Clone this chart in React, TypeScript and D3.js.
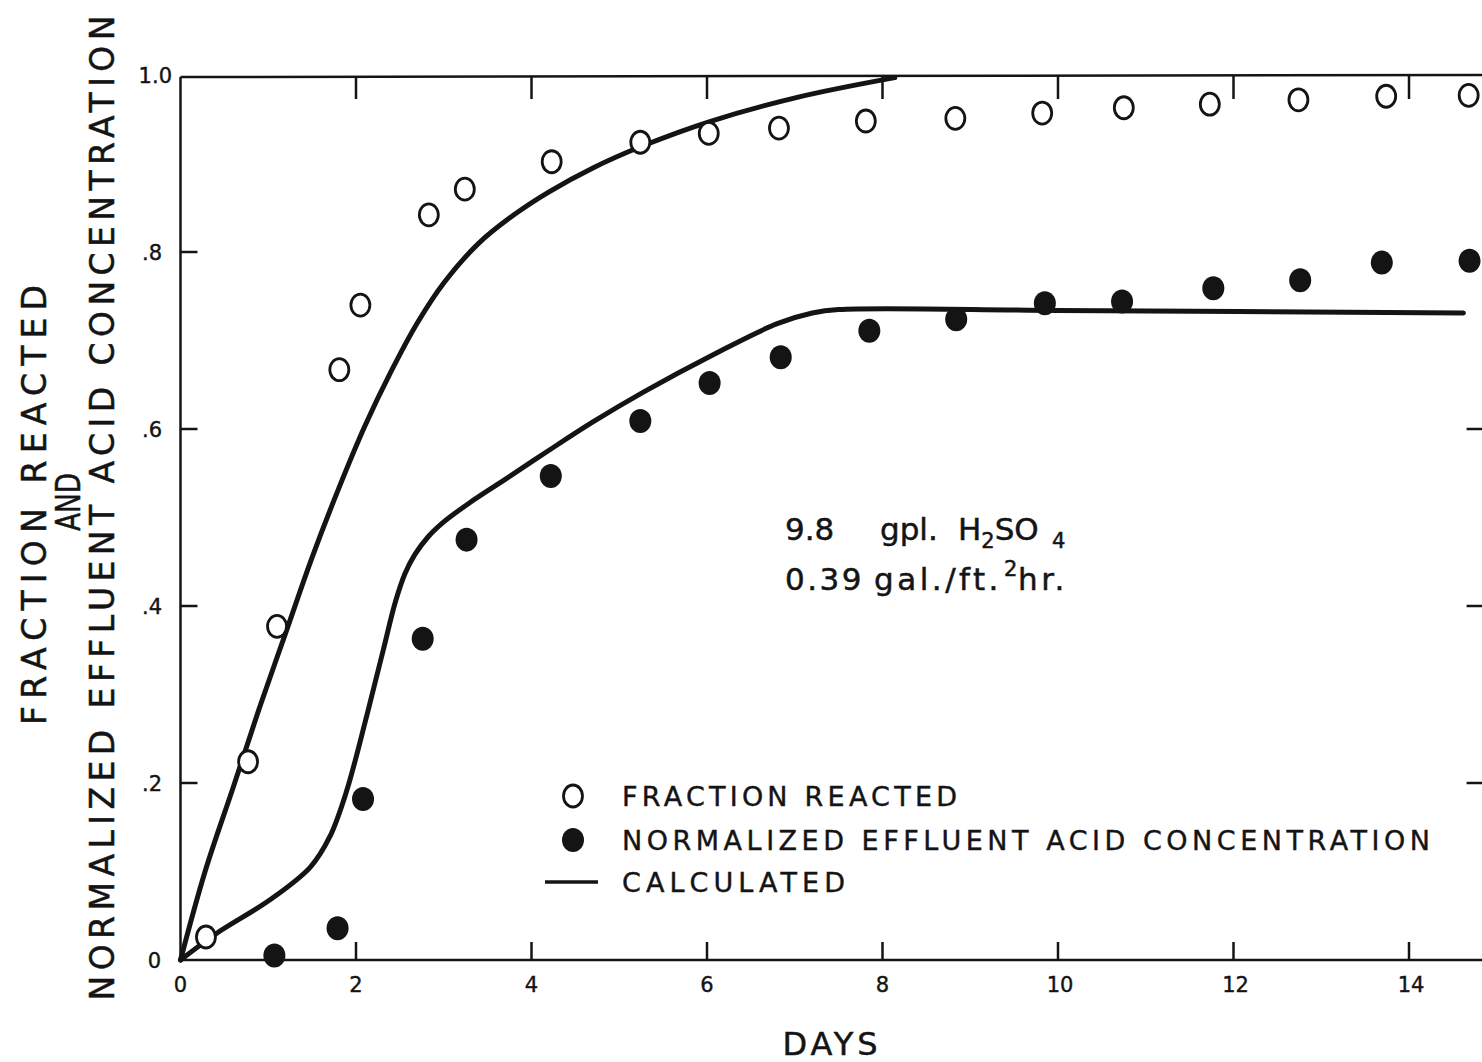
import React from "react";
import * as d3 from "d3";

// ---------- data ----------
const fracDays = [0.29, 0.77, 1.10, 1.81, 2.05, 2.83, 3.24, 4.23, 5.24, 6.02, 6.82, 7.81, 8.83, 9.82, 10.75, 11.73, 12.74, 13.74, 14.68];
const fracVals = [0.026, 0.224, 0.377, 0.667, 0.740, 0.842, 0.871, 0.902, 0.924, 0.934, 0.940, 0.948, 0.951, 0.957, 0.963, 0.967, 0.972, 0.976, 0.977];

const acidDays = [1.07, 1.79, 2.08, 2.76, 3.26, 4.22, 5.24, 6.03, 6.84, 7.85, 8.84, 9.85, 10.73, 11.77, 12.76, 13.69, 14.69];
const acidVals = [0.005, 0.036, 0.182, 0.363, 0.475, 0.547, 0.609, 0.652, 0.681, 0.711, 0.724, 0.742, 0.744, 0.759, 0.768, 0.788, 0.790];

const calcFracDays = [0, 0.28, 0.6, 0.9, 1.2, 1.5, 1.8, 2.1, 2.4, 2.7, 3.0, 3.4, 3.8, 4.2, 4.7, 5.27, 6.05, 7.04, 8.14];
const calcFracVals = [0, 0.1, 0.195, 0.285, 0.37, 0.455, 0.532, 0.603, 0.665, 0.72, 0.765, 0.81, 0.842, 0.868, 0.895, 0.92, 0.948, 0.975, 0.997];

const calcAcidDays = [0, 0.41, 1.02, 1.48, 1.70, 1.89, 2.12, 2.31, 2.45, 2.56, 2.67, 2.82, 3.0, 3.3, 3.7, 4.2, 4.7, 5.28, 6.07, 6.8, 7.2, 7.5, 10.0, 14.62];
const calcAcidVals = [0, 0.03, 0.068, 0.105, 0.139, 0.19, 0.275, 0.35, 0.405, 0.437, 0.458, 0.478, 0.495, 0.517, 0.543, 0.576, 0.608, 0.642, 0.684, 0.719, 0.731, 0.735, 0.734, 0.731];

const xTicks = [0, 2, 4, 6, 8, 10, 12, 14];
const xTickLabels = ["0", "2", "4", "6", "8", "10", "12", "14"];
const yTicks = [0, 0.2, 0.4, 0.6, 0.8, 1.0];
const yTickLabels = ["0", ".2", ".4", ".6", ".8", "1.0"];
const rightTicks = [0.2, 0.4, 0.6];

const legendLabels = ["FRACTION  REACTED", "NORMALIZED  EFFLUENT   ACID  CONCENTRATION", "CALCULATED"];
const yTitleLines = ["FRACTION  REACTED", "AND", "NORMALIZED  EFFLUENT  ACID  CONCENTRATION"];
const xTitle = "DAYS";

// ---------- layout ----------
const W = 1482;
const H = 1062;
const xMax = 14.85;
const FONT = "'DejaVu Sans', 'Liberation Sans', sans-serif";
const INK = "#141414";

export default function App() {
  const x = d3.scaleLinear().domain([0, 15]).range([180.5, 180.5 + 15 * 87.75]);
  const y = d3.scaleLinear().domain([0, 1]).range([960, 75]);

  const line = d3
    .line<[number, number]>()
    .x((d) => x(d[0]))
    .y((d) => y(d[1]))
    .curve(d3.curveCatmullRom.alpha(0.5));

  const fracCalc = calcFracDays.map((d, i) => [d, calcFracVals[i]] as [number, number]);
  const acidCalc = calcAcidDays.map((d, i) => [d, calcAcidVals[i]] as [number, number]);

  const x0 = x(0);
  const x1 = x(xMax);
  const yb = y(0);
  const yt = y(1) + 2;

  return (
    <div style={{ position: "absolute", left: 0, top: 0 }}>
      <svg width={W} height={H} style={{ display: "block", background: "#fff" }}>
        <rect x={0} y={0} width={W} height={H} fill="#fff" />
        {/* frame */}
        <g stroke={INK} strokeWidth={2.5} fill="none">
          <line x1={x0} y1={yt} x2={x0} y2={yb} />
          <line x1={x0} y1={yb} x2={x1} y2={yb} />
          <line x1={x0} y1={yt} x2={x1} y2={yt - 2} />
          <line x1={x1} y1={yt} x2={x1} y2={yb} />
          {xTicks.filter((t) => t > 0).map((t) => (
            <g key={"xt" + t}>
              <line x1={x(t)} y1={yb} x2={x(t)} y2={yb - 18} />
              <line x1={x(t)} y1={yt - 1} x2={x(t)} y2={yt + 22} />
            </g>
          ))}
          {yTicks.filter((t) => t > 0 && t < 1).map((t) => (
            <line key={"yt" + t} x1={x0} y1={y(t)} x2={x0 + 17} y2={y(t)} />
          ))}
          {rightTicks.map((t) => (
            <line key={"rt" + t} x1={x1} y1={y(t)} x2={x1 - 17} y2={y(t)} />
          ))}
        </g>

        {/* tick labels */}
        <g fontFamily={FONT} fontSize={21} fill={INK} stroke={INK} strokeWidth={0.4}>
          {xTicks.map((t, i) => (
            <text key={"xl" + t} x={x(t) + (t >= 10 ? 2 : 0)} y={yb + 32} textAnchor="middle">
              {xTickLabels[i]}
            </text>
          ))}
          {yTicks.map((t, i) => (
            <text key={"yl" + t} x={t === 1 ? 172 : t === 0 ? 161 : 162} y={y(t) + 8} textAnchor="end">
              {yTickLabels[i]}
            </text>
          ))}
        </g>

        {/* calculated curves */}
        <g fill="none" stroke={INK} strokeWidth={5} strokeLinecap="round" strokeLinejoin="round">
          <path d={line(fracCalc) || ""} />
          <path d={line(acidCalc) || ""} />
        </g>

        {/* data points */}
        {fracDays.map((d, i) => (
          <ellipse key={"f" + i} cx={x(d)} cy={y(fracVals[i])} rx={9.5} ry={11} fill="#fff" stroke={INK} strokeWidth={2.8} />
        ))}
        {acidDays.map((d, i) => (
          <ellipse key={"a" + i} cx={x(d)} cy={y(acidVals[i])} rx={11} ry={12} fill={INK} />
        ))}

        {/* y-axis title */}
        <g fontFamily={FONT} fontSize={33} fill={INK} stroke={INK} strokeWidth={0.5}>
          <text transform="translate(46,505) rotate(-90)" textAnchor="middle" textLength={440} lengthAdjust="spacing">
            {yTitleLines[0]}
          </text>
          <text transform="translate(80,502) rotate(-90) scale(0.8,1)" textAnchor="middle">
            {yTitleLines[1]}
          </text>
          <text transform="translate(114,508) rotate(-90)" textAnchor="middle" textLength={985} lengthAdjust="spacing">
            {yTitleLines[2]}
          </text>
        </g>

        {/* x-axis title */}
        <text x={830} y={1055} fontFamily={FONT} fontSize={32} fill={INK} stroke={INK} strokeWidth={0.5} textAnchor="middle" textLength={95} lengthAdjust="spacing">
          {xTitle}
        </text>

        {/* annotation */}
        <g fontFamily={FONT} fontSize={31} fill={INK} stroke={INK} strokeWidth={0.5}>
          <text y={540}>
            <tspan x={785}>9.8</tspan>
            <tspan x={880}>gpl.</tspan>
            <tspan x={958}>H</tspan>
            <tspan fontSize={21} dy={8}>2</tspan>
            <tspan dy={-8}>SO</tspan>
            <tspan fontSize={21} dy={8} x={1052}>4</tspan>
          </text>
          <text y={590}>
            <tspan x={785} letterSpacing={2.5}>0.39</tspan>
            <tspan x={874} letterSpacing={3.5}>gal./ft.</tspan>
          </text>
          <text x={1004} y={576} fontSize={21}>2</text>
          <text x={1018} y={590} letterSpacing={3.5}>hr.</text>
        </g>

        {/* legend */}
        <g>
          <ellipse cx={573} cy={796} rx={9.5} ry={11} fill="#fff" stroke={INK} strokeWidth={2.8} />
          <ellipse cx={573} cy={840} rx={11} ry={12} fill={INK} />
          <line x1={545} y1={882} x2={598} y2={882} stroke={INK} strokeWidth={3.5} />
          <g fontFamily={FONT} fontSize={27} fill={INK} stroke={INK} strokeWidth={0.4}>
            <text x={622} y={806} textLength={335} lengthAdjust="spacing">{legendLabels[0]}</text>
            <text x={622} y={850} textLength={808} lengthAdjust="spacing">{legendLabels[1]}</text>
            <text x={622} y={892} textLength={223} lengthAdjust="spacing">{legendLabels[2]}</text>
          </g>
        </g>
      </svg>
    </div>
  );
}
